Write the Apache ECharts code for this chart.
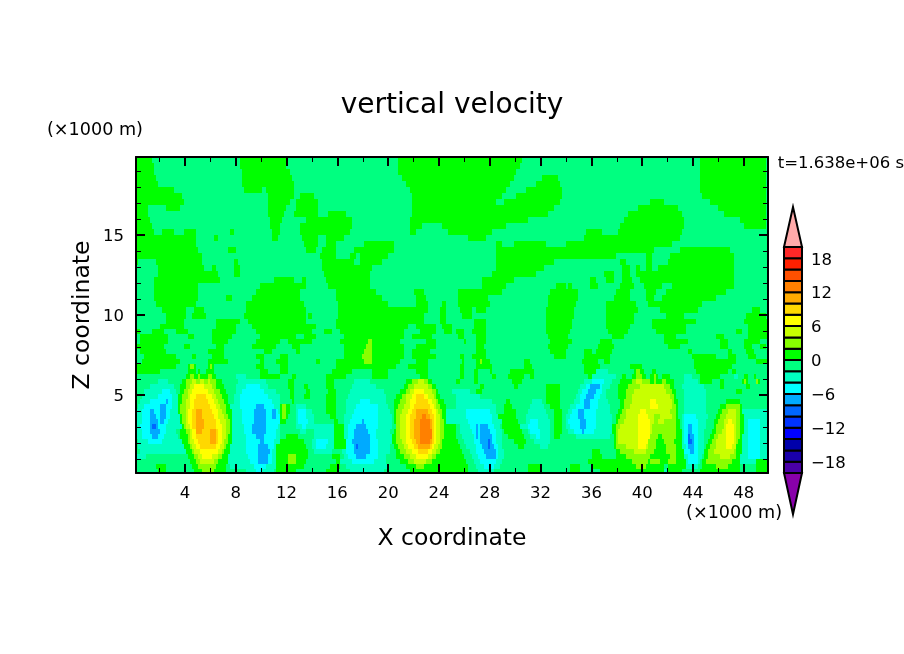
<!DOCTYPE html>
<html><head><meta charset="utf-8">
<style>html,body{margin:0;padding:0;background:#fff}#c{width:904px;height:654px}</style>
<script src="https://cdn.jsdelivr.net/npm/echarts@6/dist/echarts.min.js"></script>
</head><body><div id="c"></div>
<script>
const titleText = 'vertical velocity';
const xName = 'X coordinate';
const zName = 'Z coordinate';
const unitText = '(×1000 m)';
const timeText = 't=1.638e+06 s';
const xMajor = [4,8,12,16,20,24,28,32,36,40,44,48];
const xMinor = [2,6,10,14,18,22,26,30,34,38,42,46];
const zMajor = [5,10,15];
const zMinor = [1,2,3,4,6,7,8,9,11,12,13,14,16,17,18,19];
const barTicks = [-18,-12,-6,0,6,12,18];
const barLevels = [-20,-18,-16,-14,-12,-10,-8,-6,-4,-2,0,2,4,6,8,10,12,14,16,18];
const barColors = ['#4a00a8','#1a00aa','#0000aa','#0000ff','#0033ff','#0066ff','#00aaff','#00ffff','#00ffc0','#00ff80','#00ff00','#88ff00','#c8ff00','#ffff00','#ffd800','#ffaa00','#ff8000','#ff5000','#ff2000','#ff2828'];
const overColor = '#ffaaaa', underColor = '#8800aa';
// value of each contour band used in the field tables
const bandValues = {'e':-11,'d':-9,'b':-7,'c':-5,'t':-3,'.':-1,'0':1,'g':3,'h':5,'y':7,'o':9,'p':11,'r':13};
// field; upper part: intervals (in 316 grid columns) where w > 0, elsewhere -2 < w < 0
const upperPositive = [
[[0,8],[52,75],[131,193],[282,315]],
[[0,9],[52,75],[131,192],[282,315]],
[[0,9],[53,77],[131,190],[282,315]],
[[0,10],[53,78],[133,189],[203,211],[282,315]],
[[0,11],[53,79],[135,187],[200,212],[282,315]],
[[0,19],[54,63],[65,79],[137,185],[195,213],[282,315]],
[[0,23],[66,79],[82,89],[138,183],[190,213],[283,315]],
[[0,24],[66,77],[80,91],[138,180],[184,212],[257,264],[287,315]],
[[0,6],[15,22],[66,75],[80,91],[138,209],[251,271],[291,315]],
[[0,6],[66,74],[79,91],[96,105],[138,206],[246,273],[294,315]],
[[0,7],[67,73],[85,108],[137,196],[244,274],[302,315]],
[[0,8],[67,72],[82,108],[137,143],[153,185],[242,274],[304,315]],
[[0,9],[13,19],[24,30],[47,49],[68,72],[82,107],[137,140],[156,178],[225,233],[241,273]],
[[0,30],[39,41],[68,71],[83,91],[95,104],[166,175],[224,272]],
[[0,30],[84,91],[95,100],[114,129],[180,183],[189,205],[215,268]],
[[0,31],[46,50],[85,90],[93,100],[109,129],[180,259],[272,297]],
[[0,33],[92,100],[107,110],[112,126],[180,240],[255,258],[267,299]],
[[0,1],[10,33],[49,51],[93,109],[112,123],[180,209],[242,245],[255,258],[266,299]],
[[11,34],[38,40],[49,52],[93,118],[180,204],[243,247],[250,252],[255,258],[261,299]],
[[11,41],[49,52],[94,117],[178,200],[234,239],[243,247],[250,299]],
[[9,42],[69,79],[83,85],[95,117],[173,189],[227,230],[235,239],[243,248],[252,299]],
[[9,31],[62,85],[96,117],[173,185],[210,215],[216,218],[227,231],[242,249],[254,263],[268,299]],
[[9,31],[60,82],[100,120],[139,144],[161,183],[207,221],[240,247],[255,260],[265,295]],
[[9,31],[45,48],[58,82],[100,123],[140,145],[161,176],[206,221],[239,247],[255,259],[263,290]],
[[10,30],[55,84],[101,126],[140,146],[153,155],[161,177],[206,220],[235,250],[256,283]],
[[13,25],[29,34],[55,85],[101,146],[152,155],[162,168],[170,175],[205,219],[235,251],[262,281],[308,312]],
[[15,25],[28,35],[54,85],[86,88],[101,144],[152,155],[163,168],[205,219],[235,249],[265,274],[305,315]]
];
// lower part: "band endColumn" pairs, one string per row from top to bottom
const lowerBands = [
". 15 0 24 . 40 0 52 . 56 0 85 . 100 0 144 . 152 0 155 . 169 0 175 . 205 0 218 . 235 0 249 . 258 0 280 . 304 0 316",
". 12 0 24 . 40 0 50 . 58 0 90 . 100 0 136 . 140 0 150 . 153 0 158 . 169 0 175 . 205 0 218 . 235 0 247 . 258 0 275 . 306 0 316",
"0 2 . 8 0 14 . 20 0 26 . 38 0 50 . 60 0 88 . 94 0 98 . 102 0 134 . 142 0 150 . 154 0 158 . 160 0 164 . 168 0 175 . 205 0 217 . 236 0 246 . 260 0 275 . 300 0 303 . 306 0 316",
". 2 0 16 . 26 0 29 . 38 0 48 . 62 0 80 . 84 0 90 . 104 0 134 . 138 0 148 . 161 0 164 . 170 0 175 . 206 0 216 . 238 0 244 . 264 0 270 . 290 0 294 . 306 0 316",
". 2 0 16 . 38 0 46 . 60 0 72 . 76 0 88 . 102 0 116 g 118 0 132 . 145 0 150 . 164 0 165 . 170 0 175 . 207 0 218 . 232 0 238 . 264 0 276 . 292 0 296 . 304 0 312 . 316",
"0 14 . 24 0 27 . 40 0 44 . 58 0 70 . 78 0 82 . 104 0 115 g 118 0 134 . 140 0 150 . 170 0 174 . 206 0 216 . 231 0 239 . 266 0 272 . 292 0 296 . 304 0 308 . 312 0 315 . 316",
". 2 0 15 . 36 0 44 . 64 0 68 . 80 0 82 . 104 0 114 g 118 0 134 . 138 0 147 . 170 0 175 . 207 0 215 . 224 0 228 . 230 0 238 . 276 0 278 . 296 0 298 . 305 0 309 . 316",
". 4 0 20 . 28 0 30 . 38 0 44 . 60 0 64 . 72 0 76 . 104 0 113 g 118 0 134 . 138 0 150 . 162 0 164 . 168 0 175 . 209 0 215 . 224 0 237 . 278 0 290 . 296 0 300 . 306 0 310 . 316",
". 3 0 22 . 36 0 46 . 62 0 64 . 70 0 76 . 90 0 92 . 100 0 114 g 118 0 132 . 140 0 146 . 163 0 164 . 170 0 172 g 173 0 177 . 194 0 197 . 223 0 231 . 234 0 237 . 279 0 300 . 310 0 316",
"0 20 . 26 0 27 g 29 0 30 . 36 0 37 g 38 0 39 . 60 0 64 . 72 0 76 . 100 0 130 . 136 0 146 . 162 0 164 . 170 0 178 . 194 0 198 . 224 0 232 . 247 0 253 . 279 0 298 . 316",
"0 12 . 26 0 30 . 31 0 32 . 35 0 39 . 62 0 66 . 72 0 76 . 98 0 108 . 118 0 126 . 140 0 146 . 162 0 164 . 169 0 171 . 177 0 178 . 187 0 199 . 224 0 230 t 236 . 249 0 250 g 252 0 254 . 258 0 260 . 280 0 296 . 298 0 300 . 316",
". 25 0 27 g 29 0 31 g 32 0 36 g 38 0 40 . 50 t 55 . 62 0 72 . 78 0 80 . 95 0 105 . 118 0 126 . 142 0 146 . 162 0 164 . 169 0 171 . 178 0 180 . 186 0 194 . 197 0 199 . 226 0 228 t 240 . 243 0 245 . 248 0 250 g 253 0 255 . 257 0 259 g 260 0 261 . 263 0 267 . 274 t 278 . 282 0 292 . 299 t 301 . 304 0 306 . 309 0 310 . 316",
". 11 t 16 . 23 0 25 g 28 h 30 g 32 h 34 g 36 h 37 g 40 0 43 . 51 t 65 . 76 0 79 . 95 0 99 . 109 t 117 . 135 0 138 g 141 h 144 g 146 0 148 . 160 0 162 . 169 0 171 . 188 0 193 . 224 t 228 c 234 t 238 . 242 0 248 g 250 h 253 g 257 0 259 g 260 0 263 g 265 0 269 . 274 t 281 . 282 0 288 . 292 0 294 . 303 0 304 g 305 0 306 . 310 g 311 0 312 . 316",
". 7 t 19 . 22 0 25 g 27 h 29 y 34 h 38 g 40 0 44 . 50 t 55 c 62 t 66 . 76 0 79 . 84 0 86 . 95 0 99 . 108 t 120 . 134 0 136 g 139 h 146 g 148 0 150 . 172 0 174 . 189 0 191 . 205 0 212 . 222 t 225 c 227 b 232 c 233 t 237 . 241 0 246 g 252 h 264 g 267 0 269 . 273 t 284 . 292 0 294 . 305 0 307 . 316",
". 4 t 13 c 17 t 20 . 22 0 24 g 26 h 28 y 36 h 39 g 42 0 45 . 50 t 53 c 64 t 70 . 77 0 79 . 85 0 87 . 96 0 100 . 107 t 124 . 132 0 135 g 137 h 139 y 144 h 148 g 150 0 151 . 158 t 167 . 170 0 173 . 205 0 212 . 221 t 223 c 226 b 230 c 233 t 235 . 241 0 245 g 249 h 265 g 268 0 270 . 274 t 285 . 300 0 303 . 316",
". 3 t 11 c 18 t 21 0 23 g 26 h 27 y 30 o 35 y 38 h 40 g 43 0 46 . 49 t 52 c 66 t 72 . 77 0 79 . 84 0 87 . 95 0 100 . 106 t 125 . 130 0 133 g 135 h 138 y 140 o 144 y 146 h 149 g 150 0 152 . 160 t 172 . 205 0 212 . 220 t 222 c 225 b 229 c 232 t 235 . 241 0 245 g 248 h 267 g 269 0 270 . 274 t 285 . 316",
". 2 t 7 c 15 b 16 c 18 t 21 0 23 g 25 h 27 y 29 o 36 y 39 h 41 g 44 0 46 . 49 t 52 c 68 t 72 . 78 0 79 . 95 0 100 . 105 t 112 c 117 t 125 . 129 0 132 g 135 h 137 y 140 o 146 y 148 h 150 g 151 0 154 . 160 t 178 . 185 0 187 . 198 t 203 . 205 0 212 . 219 t 222 c 224 b 227 c 231 t 236 . 242 0 244 g 248 h 257 y 260 h 268 g 269 0 271 . 274 t 285 . 295 0 302 . 316",
". 1 t 4 c 12 b 15 c 18 t 21 0 22 g 25 h 27 y 29 o 37 y 40 h 42 g 45 0 47 t 52 c 60 b 64 c 69 t 72 0 73 g 75 0 77 . 80 t 85 . 95 0 100 . 105 t 110 c 121 t 126 . 129 0 131 g 134 h 137 y 139 o 147 y 149 h 150 g 152 0 155 . 160 t 180 . 184 0 188 . 197 t 204 . 207 0 212 . 217 t 220 c 224 b 227 c 231 t 237 . 242 0 244 g 247 h 257 y 261 h 268 g 270 0 271 . 274 t 285 . 292 0 295 g 302 0 303 . 316",
"t 3 c 7 b 9 c 12 b 15 c 17 t 21 0 22 g 25 h 26 y 28 o 30 p 33 o 38 y 41 h 43 g 45 0 48 t 53 c 59 b 65 c 68 b 70 c 71 t 72 0 73 g 75 0 77 . 80 t 81 c 85 t 88 . 95 0 100 . 105 t 109 c 121 t 127 . 129 0 130 g 133 h 136 y 138 o 140 p 146 o 148 y 150 h 151 g 153 0 155 t 165 c 177 t 180 . 184 0 190 . 196 t 205 . 209 0 213 . 216 t 218 c 221 b 224 c 230 t 237 . 241 0 243 g 245 h 252 y 255 h 267 g 270 0 271 . 274 t 285 . 291 0 293 g 296 h 300 g 302 0 303 t 316",
"t 3 c 7 b 10 c 12 b 15 c 17 t 22 0 23 g 25 h 26 y 28 o 30 p 33 o 39 y 41 h 44 g 46 0 48 t 53 c 59 b 65 c 68 b 70 c 72 0 73 g 75 0 76 . 80 t 81 c 85 t 89 . 97 0 100 . 104 t 108 c 121 t 128 . 129 0 130 g 132 h 135 y 137 o 140 p 143 r 145 p 147 o 149 y 150 h 152 g 153 0 155 t 165 c 178 t 181 0 190 . 195 t 206 . 209 0 213 . 215 t 217 c 221 b 224 c 230 t 238 . 240 0 242 g 245 h 251 y 256 h 259 g 262 h 268 g 270 0 271 . 273 t 274 c 280 t 286 . 290 0 292 g 295 h 300 g 302 0 304 t 316",
"t 3 c 7 b 11 c 12 b 14 c 16 t 22 0 23 g 25 h 26 y 28 o 30 p 34 o 40 y 42 h 45 g 47 0 48 t 53 c 59 b 65 c 72 0 75 . 80 t 81 c 86 t 89 . 99 0 101 . 104 t 107 c 113 b 114 c 121 t 128 . 129 0 130 g 132 h 135 y 137 o 139 p 142 r 147 p 148 o 149 y 150 h 152 g 154 0 155 t 166 c 178 t 183 0 191 . 195 t 197 c 201 t 207 . 209 0 213 . 215 t 216 c 222 b 225 c 230 t 238 . 240 0 241 g 244 h 251 y 257 h 259 g 261 h 264 g 270 0 272 . 273 t 274 c 281 t 285 . 289 0 291 g 294 h 296 y 298 h 300 g 302 0 304 t 306 c 312 t 316",
"t 2 c 7 b 8 d 10 b 11 c 15 t 23 0 24 g 25 h 27 y 28 o 30 p 34 o 40 y 43 h 45 g 47 0 48 t 54 c 58 b 65 c 71 t 72 . 80 t 83 c 85 t 99 0 104 t 106 c 110 b 115 c 121 t 128 . 130 g 132 h 135 y 137 o 139 p 142 r 147 p 148 o 149 y 150 h 152 g 154 0 160 . 162 t 167 c 170 b 171 c 172 b 176 c 179 t 182 . 183 0 192 t 196 c 201 t 207 . 209 0 213 . 215 t 217 c 222 b 225 c 230 t 238 0 240 g 242 h 251 y 257 h 258 g 270 0 272 . 273 t 274 c 276 b 278 c 281 t 285 . 289 0 290 g 294 h 295 y 299 h 300 g 302 0 304 t 306 c 312 t 316",
"t 3 c 7 b 12 c 15 t 20 . 22 0 25 g 27 h 28 y 30 p 33 o 37 p 40 o 41 y 43 h 45 g 47 0 48 t 54 c 58 b 65 c 70 t 72 . 82 t 85 . 89 t 99 0 104 t 106 c 109 b 116 c 120 t 127 . 129 0 130 g 132 h 135 y 137 o 139 p 142 r 148 o 149 y 150 h 152 g 154 0 160 . 162 t 168 c 170 b 171 c 172 b 177 c 180 t 183 . 184 0 193 . 196 t 197 c 202 t 207 . 209 0 213 . 216 t 219 c 223 b 224 c 229 t 238 0 240 g 241 h 251 y 257 h 258 g 270 0 273 t 274 c 276 b 278 c 281 t 284 . 288 0 290 g 293 h 295 y 299 h 300 g 302 0 304 t 306 c 312 t 316",
"t 3 c 8 b 11 c 14 t 21 . 22 0 26 g 27 h 28 y 30 o 37 p 40 o 41 y 43 h 45 g 46 0 48 t 55 c 60 b 64 c 70 t 72 . 75 0 81 . 89 t 99 0 104 t 106 c 109 b 117 c 120 t 128 0 130 g 132 h 135 y 137 o 139 p 142 r 148 o 149 y 150 h 152 g 154 0 160 . 163 t 169 c 170 b 171 c 172 b 178 c 180 t 183 . 186 0 194 . 197 t 200 c 202 t 207 . 209 0 212 . 220 t 237 . 239 0 240 g 241 h 251 y 257 g 261 0 263 g 270 0 273 t 274 c 276 d 277 b 279 c 281 t 284 . 287 0 289 g 291 h 295 y 299 h 300 g 302 0 303 t 306 c 312 t 316",
". 1 t 6 c 13 t 23 0 26 g 27 h 29 y 31 o 37 p 40 o 41 y 43 h 44 g 46 0 48 t 55 c 62 b 64 c 69 t 72 0 84 . 88 t 90 c 96 t 99 0 105 c 108 b 117 c 121 t 128 0 130 g 133 h 135 y 138 o 140 p 142 r 147 p 148 o 149 y 150 h 152 g 153 0 161 . 164 t 169 c 172 b 176 d 177 b 178 c 180 t 183 . 189 0 195 . 199 t 207 . 239 0 240 g 241 h 251 y 256 g 260 0 264 g 269 0 273 t 274 c 276 d 278 b 279 c 281 t 284 . 286 0 288 g 290 h 295 y 299 h 300 g 301 0 303 t 306 c 312 t 316",
". 1 t 24 0 27 g 28 h 30 y 32 o 40 y 42 h 44 g 45 0 47 t 55 c 61 b 66 c 69 t 70 0 85 . 88 t 90 c 95 t 99 0 105 c 109 b 110 d 111 b 117 c 121 t 127 . 129 0 131 g 134 h 136 y 139 o 141 p 147 o 148 y 149 h 151 g 153 0 162 . 165 t 170 c 173 b 176 d 177 b 179 c 181 t 183 . 191 0 194 . 202 t 206 . 239 0 240 g 245 h 251 y 255 h 256 g 260 0 265 g 270 0 273 t 275 c 276 b 279 c 281 t 284 . 285 0 287 g 290 h 295 y 298 h 300 0 303 t 306 c 312 t 316",
". 2 t 25 0 28 g 29 h 32 y 41 h 43 g 44 0 47 t 55 c 61 b 67 c 68 t 70 0 86 . 89 t 98 . 103 t 105 c 109 b 117 c 121 t 127 . 130 0 132 g 135 h 138 y 141 o 146 y 148 h 150 g 152 0 163 . 167 t 170 c 174 b 180 c 181 t 184 . 228 0 232 . 240 0 242 g 249 h 255 g 259 0 265 g 270 0 274 c 277 b 279 c 281 t 284 0 286 g 289 h 299 g 300 0 303 t 306 c 312 t 316",
"t 5 . 26 0 29 g 31 h 33 y 38 h 41 g 43 0 46 t 56 c 61 b 66 c 68 t 70 0 76 g 80 0 86 . 98 0 102 . 104 t 106 c 110 b 115 c 121 t 125 . 130 0 134 g 137 h 140 y 146 h 148 g 150 0 164 . 168 t 171 c 175 b 180 c 181 t 184 . 228 0 233 . 240 0 245 g 257 0 267 g 270 0 274 t 276 c 281 t 283 . 284 0 286 g 292 h 297 g 300 0 302 t 306 c 312 t 316",
". 27 0 30 g 32 h 39 g 41 0 46 t 57 c 61 b 66 c 68 t 70 0 76 g 80 0 85 . 100 0 102 t 108 c 119 t 125 . 132 0 136 g 139 h 145 g 148 0 165 . 169 t 172 c 180 t 183 . 226 0 248 g 256 0 257 g 262 0 266 g 270 0 275 t 276 c 281 t 282 . 283 0 285 g 298 0 302 t 310 0 316",
". 10 0 15 . 28 0 31 g 40 0 45 . 47 t 59 c 65 t 70 0 84 . 97 0 102 . 105 t 126 . 135 0 140 g 144 0 166 . 170 t 174 c 179 t 182 . 196 0 202 . 217 0 222 . 228 0 250 g 255 0 264 . 266 0 275 t 281 . 283 0 290 g 296 0 302 . 310 0 316",
". 11 0 15 . 29 0 33 g 39 0 45 . 55 t 60 c 63 t 69 . 70 0 80 . 95 0 101 . 107 t 124 . 137 0 166 . 171 t 179 . 196 0 202 . 217 0 222 . 232 0 264 t 266 0 273 . 282 0 302 . 310 0 316"
];
const xMin = 0.15, xMax = 49.9, zMin = 0.125, zMax = 19.875;
const columnCount = 316;
const columnWidth = (xMax - xMin) / columnCount;
const upperRowDepth = 0.375, lowerRowDepth = 0.3125;

const fieldCells = [];
function addCell(c0, c1, zTop, zBottom, value) {
  if (c1 > c0) fieldCells.push([xMin + c0 * columnWidth, xMin + c1 * columnWidth, zTop, zBottom, value]);
}
let zCursor = zMax;
upperPositive.forEach(function (row) {
  const zBottom = zCursor - upperRowDepth;
  let col = 0;
  row.forEach(function (span) {
    addCell(col, span[0], zCursor, zBottom, bandValues['.']);
    addCell(span[0], span[1], zCursor, zBottom, bandValues['0']);
    col = span[1];
  });
  addCell(col, columnCount, zCursor, zBottom, bandValues['.']);
  zCursor = zBottom;
});
lowerBands.forEach(function (row) {
  const zBottom = Math.max(zMin, zCursor - lowerRowDepth);
  const parts = row.split(' ');
  let col = 0;
  for (let i = 0; i < parts.length; i += 2) {
    const end = Number(parts[i + 1]);
    addCell(col, end, zCursor, zBottom, bandValues[parts[i]]);
    col = end;
  }
  addCell(col, columnCount, zCursor, zBottom, bandValues['.']);
  zCursor = zBottom;
});
function colorOf(v) {
  return barColors[Math.floor((v - barLevels[0]) / 2)];
}
const barCells = barLevels.map(function (lo, i) { return [lo, lo + 2, i]; });
const capData = [[20, 27.06, 0], [-20, -27.3, 1]];

const font = 'DejaVu Sans';
function xAxisOf(position, values, len, width, extra) {
  return Object.assign({
    type: 'value', position: position, min: xMin, max: xMax, gridIndex: 0, z: 10,
    splitLine: { show: false },
    axisLine: { show: false, onZero: false },
    axisTick: { show: true, inside: true, length: len, customValues: values, lineStyle: { color: '#000', width: width } },
    axisLabel: { show: false }
  }, extra || {});
}
function yAxisOf(position, values, len, width, extra) {
  return Object.assign({
    type: 'value', position: position, min: zMin, max: zMax, gridIndex: 0, z: 10,
    splitLine: { show: false },
    axisLine: { show: false, onZero: false },
    axisTick: { show: true, inside: true, length: len, customValues: values, lineStyle: { color: '#000', width: width } },
    axisLabel: { show: false }
  }, extra || {});
}
const frame = { show: true, onZero: false, lineStyle: { color: '#000', width: 2 } };
function loweredLabel(v) {
  return '{a|' + String(v).replace('-', '\u2212') + '}';
}
const loweredRich = { a: { padding: [4, 0, 0, 0], fontFamily: font, fontSize: 16.5, color: '#000' } };
const chart = echarts.init(document.getElementById('c'), null, { renderer: 'canvas' });
chart.setOption({
  animation: false,
  backgroundColor: '#fff',
  textStyle: { fontFamily: font, color: '#000' },
  title: { text: titleText, left: 447, top: 87, textAlign: 'center',
    textStyle: { fontFamily: font, fontSize: 28, fontWeight: 'normal', color: '#000' } },
  grid: [
    { left: 136, top: 157, width: 632, height: 316, containLabel: false, outerBoundsMode: 'none' },
    { left: 784, top: 247, width: 18, height: 226, containLabel: false, outerBoundsMode: 'none' }
  ],
  xAxis: [
    xAxisOf('bottom', xMajor, 9, 2, {
      axisLine: frame,
      axisLabel: { show: true, customValues: xMajor, margin: 12, fontFamily: font, fontSize: 16.5, color: '#000' },
      name: xName, nameLocation: 'middle', nameGap: 54, nameMoveOverlap: false,
      nameTextStyle: { fontFamily: font, fontSize: 23.5, color: '#000' }
    }),
    xAxisOf('bottom', xMinor, 5, 1),
    xAxisOf('top', xMajor, 9, 2, { axisLine: frame }),
    xAxisOf('top', xMinor, 5, 1),
    { type: 'value', gridIndex: 1, min: 0, max: 1, show: false }
  ],
  yAxis: [
    yAxisOf('left', zMajor, 9, 2, {
      axisLine: frame,
      axisLabel: { show: true, customValues: zMajor, margin: 12, formatter: loweredLabel, rich: loweredRich },
      name: zName, nameLocation: 'middle', nameGap: 41, nameMoveOverlap: false,
      nameTextStyle: { fontFamily: font, fontSize: 23.5, color: '#000' }
    }),
    yAxisOf('left', zMinor, 5, 1),
    yAxisOf('right', zMajor, 9, 2, { axisLine: frame }),
    yAxisOf('right', zMinor, 5, 1),
    { type: 'value', gridIndex: 1, position: 'right', min: -20, max: 20, splitLine: { show: false },
      axisLine: { show: false }, axisTick: { show: false },
      axisLabel: { show: true, customValues: barTicks, margin: 9, formatter: loweredLabel, rich: loweredRich } }
  ],
  series: [
    { type: 'custom', xAxisIndex: 0, yAxisIndex: 0, data: fieldCells, clip: true, silent: true,
      encode: { x: [0, 1], y: [2, 3] },
      renderItem: function (params, api) {
        const a = api.coord([api.value(0), api.value(2)]);
        const b = api.coord([api.value(1), api.value(3)]);
        const x0 = Math.round(a[0]), y0 = Math.round(a[1]), x1 = Math.round(b[0]), y1 = Math.round(b[1]);
        return { type: 'rect', shape: { x: x0, y: y0, width: x1 - x0, height: y1 - y0 },
          style: { fill: colorOf(api.value(4)), stroke: null } };
      } },
    { type: 'custom', xAxisIndex: 4, yAxisIndex: 4, data: barCells, clip: false, silent: true,
      encode: { y: [0, 1] }, z: 3,
      renderItem: function (params, api) {
        const a = api.coord([0, api.value(1)]);
        const b = api.coord([1, api.value(0)]);
        return { type: 'rect', shape: { x: a[0], y: a[1], width: b[0] - a[0], height: b[1] - a[1] },
          style: { fill: barColors[api.value(2)], stroke: '#000', lineWidth: 2 } };
      } },
    { type: 'custom', xAxisIndex: 4, yAxisIndex: 4, data: capData, clip: false, silent: true,
      encode: { y: [0, 1] }, z: 3,
      renderItem: function (params, api) {
        const p0 = api.coord([0, api.value(0)]);
        const p1 = api.coord([1, api.value(0)]);
        const tip = api.coord([0.5, api.value(1)]);
        return { type: 'polygon', shape: { points: [p0, p1, tip] },
          style: { fill: api.value(2) === 0 ? overColor : underColor, stroke: '#000', lineWidth: 2, lineJoin: 'miter' } };
      } }
  ],
  graphic: [
    { type: 'text', x: 47, y: 130, style: { text: unitText, font: '17.6px "DejaVu Sans"', fill: '#000', verticalAlign: 'middle', textAlign: 'left' } },
    { type: 'text', x: 782, y: 513, style: { text: unitText, font: '17.6px "DejaVu Sans"', fill: '#000', verticalAlign: 'middle', textAlign: 'right' } },
    { type: 'text', x: 904, y: 164, style: { text: timeText, font: '16.5px "DejaVu Sans"', fill: '#000', verticalAlign: 'middle', textAlign: 'right' } }
  ]
});
</script></body></html>
